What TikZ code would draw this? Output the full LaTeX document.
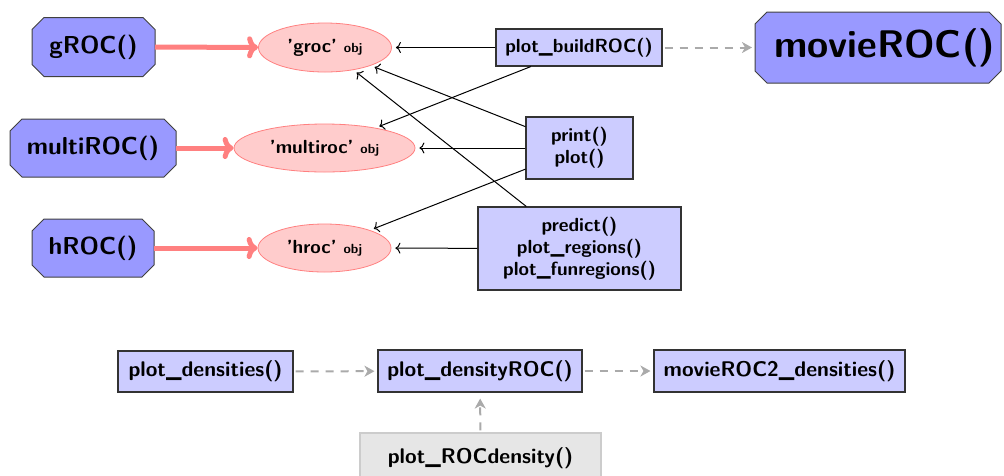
\documentclass[tikz,border=0pt]{standalone}
\usepackage{fontspec}
\usetikzlibrary{shapes.misc,shapes.geometric,arrows.meta,backgrounds}
\definecolor{funfill}{RGB}{153,153,255}
\definecolor{boxfill}{RGB}{204,204,255}
\definecolor{objfill}{RGB}{255,204,204}
\definecolor{objline}{RGB}{255,128,128}
\definecolor{dashgray}{RGB}{170,170,170}
\definecolor{grayfill}{RGB}{230,230,230}
\definecolor{grayline}{RGB}{204,204,204}
\newcommand{\octfor}[2]{%
  \begin{scope}[on background layer]
  \draw[octline] ([xshift=#2]#1.north west) -- ([xshift=-#2]#1.north east)
    -- ([yshift=-#2]#1.north east) -- ([yshift=#2]#1.south east)
    -- ([xshift=-#2]#1.south east) -- ([xshift=#2]#1.south west)
    -- ([yshift=#2]#1.south west) -- ([yshift=-#2]#1.north west) -- cycle;
  \end{scope}}
\begin{document}
\begin{tikzpicture}[x=1pt,y=-1pt,
  fun/.style={rectangle, inner sep=0pt, outer sep=0pt,
    font={\sffamily\bfseries\fontsize{24.5}{30}\selectfont}},
  octline/.style={draw=black!75, fill=funfill, line width=1pt, line join=miter},
  fnbox/.style={rectangle, draw=black!80, fill=boxfill, line width=1.1pt, align=center, inner sep=0pt,
    font={\sffamily\bfseries\fontsize{19}{22}\selectfont}},
  lowbox/.style={fnbox, font={\sffamily\bfseries\fontsize{21.2}{25}\selectfont}},
  graybox/.style={rectangle, draw=grayline, fill=grayfill, line width=1.1pt, align=center, inner sep=0pt,
    font={\sffamily\bfseries\fontsize{21.2}{25}\selectfont}},
  objnode/.style={ellipse, draw=objline, fill=objfill, line width=0.8pt, inner sep=0pt,
    font={\sffamily\bfseries\fontsize{19}{22}\selectfont}},
  bigarrow/.style={draw=objline, line width=5pt, -{To[length=11pt,width=22pt]}},
  blk/.style={draw=black, line width=1pt, -{To[length=5pt,width=11pt]}, shorten >=4pt},
  gdash/.style={draw=dashgray, line width=2pt, dash pattern=on 8pt off 7pt,
    -{Stealth[length=10pt,width=11pt,inset=3pt]}, shorten >=3pt, shorten <=2pt}
]
\useasboundingbox (0,0) rectangle (1004,475);
\newcommand{\objsub}[1]{{\fontsize{13.3}{15}\selectfont #1}}

\node[fun, minimum width=123pt, minimum height=59pt] (gf) at (93.5,47) {gROC()};
\octfor{gf}{12pt}
\node[objnode, minimum width=133pt, minimum height=49pt] (groc) at (325,47.5) {'groc' \objsub{obj}};
\node[fnbox, minimum width=166pt, minimum height=37pt] (build) at (579,47.5) {plot\_buildROC()};
\node[fun, font={\sffamily\bfseries\fontsize{38.5}{44}\selectfont}, minimum width=246pt, minimum height=71pt] (movie) at (878,47.5) {\hspace*{13pt}movieROC()};
\octfor{movie}{12pt}

\node[fun, minimum width=166pt, minimum height=58pt] (mf) at (93,148) {multiROC()};
\octfor{mf}{12pt}
\node[objnode, minimum width=181pt, minimum height=48pt] (multi) at (324.5,148) {'multiroc' \objsub{obj}};
\node[fnbox, minimum width=107pt, minimum height=62pt] (print) at (579.5,148) {print()\\plot()};

\node[fun, minimum width=122pt, minimum height=58pt] (hf) at (93,248) {hROC()};
\octfor{hf}{12pt}
\node[objnode, minimum width=133pt, minimum height=48pt] (hroc) at (324.5,248) {'hroc' \objsub{obj}};
\node[fnbox, minimum width=203pt, minimum height=83pt] (pred) at (579.5,248.5) {predict()\\plot\_regions()\\plot\_funregions()};

\node[lowbox, minimum width=175pt, minimum height=41pt] (dens) at (205.5,371.5) {plot\_densities()};
\node[lowbox, minimum width=204pt, minimum height=42pt] (droc) at (480,371) {plot\_densityROC()};
\node[lowbox, minimum width=251pt, minimum height=42pt] (m2) at (779.5,371) {movieROC2\_densities()};
\node[graybox, minimum width=241pt, minimum height=50pt] (rocd) at (480.5,458) {plot\_ROCdensity()};

\draw[bigarrow] (gf) -- (groc);
\draw[bigarrow] (mf) -- (multi);
\draw[bigarrow] (hf) -- (hroc);

\draw[blk] (build) -- (groc);
\draw[blk] (build) -- (multi);
\draw[blk] (print) -- (groc);
\draw[blk] (print) -- (multi);
\draw[blk] (print) -- (hroc);
\draw[blk] (pred) -- (groc);
\draw[blk] (pred) -- (hroc);

\draw[gdash] (build) -- (movie);
\draw[gdash] (dens) -- (droc);
\draw[gdash] (droc) -- (m2);
\draw[gdash, shorten >=6pt] (rocd) -- (droc);
\end{tikzpicture}
\end{document}
